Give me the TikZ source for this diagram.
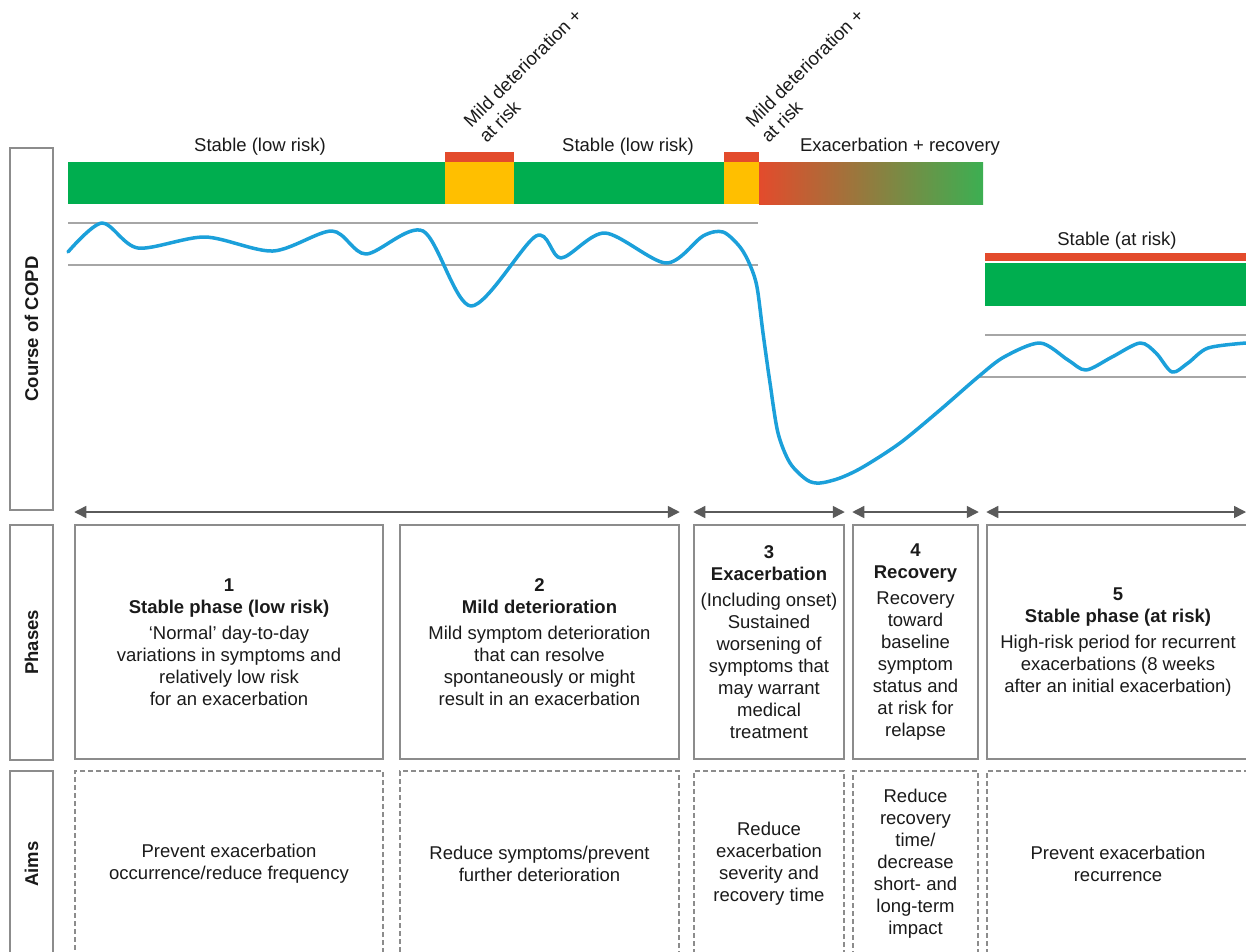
\documentclass[tikz,border=0pt]{standalone}
\usepackage{fontspec}
\setmainfont{Liberation Sans}
\usetikzlibrary{arrows.meta}
\definecolor{copdgreen}{HTML}{00AE4F}
\definecolor{copdgreenlight}{HTML}{3CAF52}
\definecolor{copdyellow}{HTML}{FFBF00}
\definecolor{copdred}{HTML}{E34B2C}
\definecolor{copdblue}{HTML}{1BA0DA}
\definecolor{copdgrey}{HTML}{8C8C8C}
\definecolor{copdline}{HTML}{A6A6A6}
\definecolor{copdarrow}{HTML}{5A5A5A}
\definecolor{copdtext}{HTML}{1A1A1A}
\begin{document}
\begin{tikzpicture}[x=1pt, y=-1pt,
	every node/.style={font=\fontsize{18.5}{22}\selectfont, text=copdtext},
	sidebox/.style={draw=copdgrey, line width=1.5pt, rotate=90, minimum height=43pt, font=\fontsize{18.5}{22}\selectfont\bfseries},
	phasebox/.style={draw=copdgrey, line width=1.5pt, minimum height=234pt, align=center, inner sep=0pt},
	aimbox/.style={draw=copdgrey, line width=1.2pt, dash pattern=on 5pt off 3pt, minimum height=186pt, align=center, inner sep=0pt},
	spanarrow/.style={draw=copdarrow, line width=1.5pt, {Triangle[length=12pt,width=12pt]}-{Triangle[length=12pt,width=12pt]}},
	band/.style={draw=copdline, line width=2pt},
	copdcurve/.style={draw=copdblue, line width=3.5pt, line cap=round, line join=round}]
		 	\useasboundingbox (0,0) rectangle (1246,951);
		 	
		 	%Side labels
		 	\node[sidebox, minimum width=362pt] (course) at (31.5,329) {Course of COPD};
		 	\node[sidebox, minimum width=235pt] (phases) at (31.5,642.5) {Phases};
		 	\node[sidebox, minimum width=186pt] (aims) at (31.5,864) {Aims};
		 	
		 	%Upper bars
		 	\fill[copdgreen] (68,162) rectangle (445,204);
		 	\fill[copdyellow] (445,162) rectangle (514,204);
		 	\fill[copdred] (445,152) rectangle (514,162);
		 	\fill[copdgreen] (514,162) rectangle (724,204);
		 	\fill[copdyellow] (724,162) rectangle (759,204);
		 	\fill[copdred] (724,152) rectangle (759,162);
		 	\shade[left color=copdred, right color=copdgreenlight] (759,162) rectangle (983,204);
		 	
		 	\node (st1) at (260,147) {Stable (low risk)};
		 	\node (st2) at (628,147) {Stable (low risk)};
		 	\node (exrec) at (900,147) {Exacerbation + recovery};
		 	\node[rotate=45, anchor=south west, align=left, inner sep=0pt] (md1) at (487,144) {Mild deterioration +\\at risk};
		 	\node[rotate=45, anchor=south west, align=left, inner sep=0pt] (md2) at (769,144) {Mild deterioration +\\at risk};
		 	
		 	%Right bars
		 	\fill[copdred] (985,253) rectangle (1246,261);
		 	\fill[copdgreen] (985,263) rectangle (1246,306);
		 	\node (st3) at (1117,241) {Stable (at risk)};
		 	
		 	%Normal range
		 	\draw[band] (68,223) -- (758,223);
		 	\draw[band] (68,265) -- (758,265);
		 	\draw[band] (985,335) -- (1246,335);
		 	\draw[band] (978,377) -- (1246,377);
		 	
		 	%Course of symptoms
		 	\draw[copdcurve] plot[smooth] coordinates {(68,252) (102,223) (138,248) (205,237) (273,251) (332,231) (366,254) (423,231) (471,306) (536,236) (561,258) (605,233) (666,263) (703,236) (723,232) (740,247) (750,265) (757,287) (763,333) (770,383) (778,433) (790,463) (807,480) (820,483) (840,478) (863,467) (900,443) (940,410) (978,377) (1004,357) (1040,343) (1068,360) (1086,370) (1112,357) (1140,343) (1156,353) (1172,372) (1188,363) (1208,348) (1246,343)};
		 	
		 	%Phases
		 	\node[phasebox, minimum width=308pt] (p1) at (229,642) {\textbf{1}\\\textbf{Stable phase (low risk)}\\[4pt]‘Normal’ day-to-day\\variations in symptoms and\\relatively low risk\\for an exacerbation};
		 	\node[phasebox, minimum width=279pt] (p2) at (539.5,642) {\textbf{2}\\\textbf{Mild deterioration}\\[4pt]Mild symptom deterioration\\that can resolve\\spontaneously or might\\result in an exacerbation};
		 	\node[phasebox, minimum width=150pt] (p3) at (769,642) {\textbf{3}\\\textbf{Exacerbation}\\[4pt](Including onset)\\Sustained\\worsening of\\symptoms that\\may warrant\\medical\\treatment};
		 	\node[phasebox, minimum width=125pt] (p4) at (915.5,642) {\textbf{4}\\\textbf{Recovery}\\[4pt]Recovery\\toward\\baseline\\symptom\\status and\\at risk for\\relapse};
		 	\node[phasebox, minimum width=262pt] (p5) at (1118,642) {\textbf{5}\\\textbf{Stable phase (at risk)}\\[4pt]High-risk period for recurrent\\exacerbations (8 weeks\\after an initial exacerbation)};
		 	
		 	%Phase spans
		 	\coordinate (arrowrow) at (0,512);
		 	\coordinate (rightend) at (1246,512);
		 	\draw[spanarrow] (p1.north west |- arrowrow) -- (p2.north east |- arrowrow);
		 	\draw[spanarrow] (p3.north west |- arrowrow) -- (p3.north east |- arrowrow);
		 	\draw[spanarrow] (p4.north west |- arrowrow) -- (p4.north east |- arrowrow);
		 	\draw[spanarrow] (p5.north west |- arrowrow) -- (rightend);
		 	
		 	%Aims
		 	\node[aimbox, minimum width=308pt] (a1) at (229,864) {Prevent exacerbation\\occurrence/reduce frequency};
		 	\node[aimbox, minimum width=279pt] (a2) at (539.5,864) {Reduce symptoms/prevent\\further deterioration};
		 	\node[aimbox, minimum width=150pt] (a3) at (769,864) {Reduce\\exacerbation\\severity and\\recovery time};
		 	\node[aimbox, minimum width=125pt] (a4) at (915.5,864) {Reduce\\recovery\\time/\\decrease\\short- and\\long-term\\impact};
		 	\node[aimbox, minimum width=262pt] (a5) at (1118,864) {Prevent exacerbation\\recurrence};
\end{tikzpicture}
\end{document}
